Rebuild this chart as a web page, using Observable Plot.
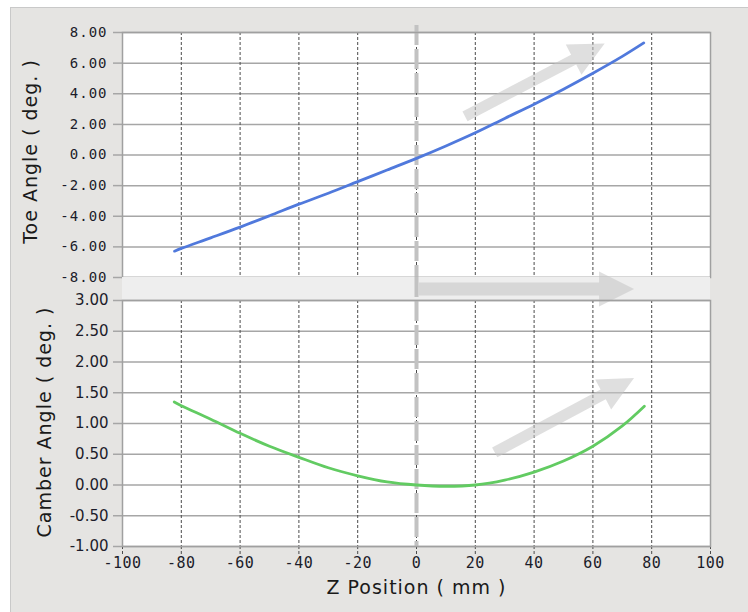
<!DOCTYPE html>
<html>
<head>
<meta charset="utf-8">
<script src="https://cdn.jsdelivr.net/npm/d3@7"></script>
<script src="https://cdn.jsdelivr.net/npm/@observablehq/plot@0.6"></script>
<style>
  body { margin: 0; background: #ffffff; }
  #wrap { position: relative; width: 748px; height: 612px; overflow: hidden; }
  #bg { position: absolute; left: 10px; top: 7px; width: 760px; height: 620px; background: #e5e4e2; border: 1px solid #c9c9c9; }
  #top { position: absolute; left: 0; top: 0; }
  #bot { position: absolute; left: 0; top: 277px; }
</style>
</head>
<body>
<div id="wrap">
  <div id="bg"></div>
  <div id="top"></div>
  <div id="bot"></div>
</div>
<script>
// ---- data ----
const zTicks = [-100, -80, -60, -40, -20, 0, 20, 40, 60, 80, 100];
const toeTicks = [-8, -6, -4, -2, 0, 2, 4, 6, 8];
const camberTicks = [-1, -0.5, 0, 0.5, 1, 1.5, 2, 2.5, 3];

const toeZ   = [-82.3, -80, -70, -60, -50, -40, -30, -20, -10, 0, 10, 20, 30, 40, 50, 60, 70, 77.3];
const toeDeg = [-6.28, -6.1, -5.41, -4.71, -3.97, -3.21, -2.5, -1.74, -0.98, -0.22, 0.59, 1.45, 2.39, 3.32, 4.3, 5.34, 6.44, 7.32];

const camberZ   = [-82.4, -80, -70, -60, -50, -40, -30, -20, -10, 0, 10, 20, 30, 40, 50, 60, 70, 77.5];
const camberDeg = [1.35, 1.29, 1.07, 0.84, 0.63, 0.45, 0.28, 0.15, 0.05, 0.0, -0.02, 0.0, 0.08, 0.21, 0.39, 0.63, 0.96, 1.28];

// decorative arrows (tail -> tip), in data units
const toeArrowZ = [16.5, 64];
const toeArrowDeg = [2.53, 7.28];
const camberArrowZ = [26.6, 74];
const camberArrowDeg = [0.53, 1.74];
const bandArrowZ = [0.8, 74];

const toeLabel = "Toe Angle ( deg. )";
const camberLabel = "Camber Angle ( deg. )";
const zLabel = "Z Position ( mm )";

// ---- layout ----
const W = 748;
const mL = 122, mR = 38;
const topH = 278, topMT = 32, topMB = 1;
const botH = 335, botMT = 23, botMB = 66;

const toeData = toeZ.map((z, i) => ({z, v: toeDeg[i]}));
const camberData = camberZ.map((z, i) => ({z, v: camberDeg[i]}));

// pixel mirrors of scales, for arrow angle/length
const xPx = d3.scaleLinear([-100, 100], [mL, W - mR]);
const toePx = d3.scaleLinear([-8, 8], [topH - topMB, topMT]);
const camPx = d3.scaleLinear([-1, 3], [botH - botMB, botMT]);

function blockArrow(halfW, headHalf, headLen) {
  return {
    draw(ctx, l) {
      const b = l - headLen;
      ctx.moveTo(-halfW, 0);
      ctx.lineTo(-halfW, -b);
      ctx.lineTo(-headHalf, -b);
      ctx.lineTo(0, -l);
      ctx.lineTo(headHalf, -b);
      ctx.lineTo(halfW, -b);
      ctx.lineTo(halfW, 0);
      ctx.closePath();
    }
  };
}
function arrowMark(zs, vs, yPx, halfW) {
  const dx = xPx(zs[1]) - xPx(zs[0]);
  const dy = yPx(vs[0]) - yPx(vs[1]);
  const len = Math.hypot(dx, dy);
  const rot = Math.atan2(dx, dy) * 180 / Math.PI;
  return Plot.vector([{z: zs[0], v: vs[0]}], {
    x: "z", y: "v", anchor: "start", length: len, rotate: rot,
    shape: blockArrow(halfW, 17, 35), fill: "#c4c4c4", fillOpacity: 0.55, stroke: "none"
  });
}

const tickText = "#1c1c2a";
const fmt2 = d => d.toFixed(2);
const titleFont = {fontFamily: "DejaVu Sans", fontSize: 19, fill: "#1a1a1a", textAnchor: "middle", lineAnchor: "middle"};

// ---- top panel ----
const topPlot = Plot.plot({
  width: W, height: topH,
  marginLeft: mL, marginRight: mR, marginTop: topMT, marginBottom: topMB,
  style: {background: "transparent", overflow: "visible"},
  x: {domain: [-100, 100], axis: null},
  y: {domain: [-8, 8], axis: null},
  marks: [
    Plot.frame({fill: "white", stroke: "none"}),
    Plot.gridY(toeTicks, {stroke: "#a6a6a6", strokeOpacity: 1, strokeWidth: 1.5}),
    Plot.gridX(zTicks, {stroke: "#4a4a4a", strokeOpacity: 1, strokeWidth: 1, strokeDasharray: "3,2"}),
    Plot.axisY(toeTicks, {
      tickSize: 9, tickPadding: 6, stroke: "#a6a6a6", strokeWidth: 1.5,
      fill: tickText, fontFamily: "DejaVu Sans Mono", fontSize: 14,
      tickFormat: fmt2, label: null
    }),
    arrowMark(toeArrowZ, toeArrowDeg, toePx, 5.5),
    Plot.ruleX([0], {stroke: "#c2c2c2", strokeWidth: 4, strokeDasharray: "20,4", insetTop: -7}),
    Plot.line(toeData, {x: "z", y: "v", stroke: "#5079dc", strokeWidth: 2.8, curve: "catmull-rom"}),
    Plot.frame({stroke: "#a0a0a0", strokeWidth: 1.5}),
    Plot.text([toeLabel], {frameAnchor: "left", rotate: -90, dx: -92, dy: -3.5, ...titleFont})
  ]
});
topPlot.querySelectorAll("text").forEach(t => { t.style.letterSpacing = "1px"; });
document.getElementById("top").appendChild(topPlot);

// ---- bottom panel ----
const botPlot = Plot.plot({
  width: W, height: botH,
  marginLeft: mL, marginRight: mR, marginTop: botMT, marginBottom: botMB,
  style: {background: "transparent", overflow: "visible"},
  x: {domain: [-100, 100], axis: null},
  y: {domain: [-1, 3], axis: null},
  marks: [
    Plot.rect([0], {x1: -100, x2: 100, insetTop: -botMT, insetBottom: botH - botMT - botMB, fill: "#eeeeee"}),
    Plot.frame({fill: "white", stroke: "none"}),
    Plot.gridY(camberTicks, {stroke: "#a6a6a6", strokeOpacity: 1, strokeWidth: 1.5}),
    Plot.gridX(zTicks, {stroke: "#4a4a4a", strokeOpacity: 1, strokeWidth: 1, strokeDasharray: "3,2"}),
    Plot.axisY(camberTicks, {
      tickSize: 9, tickPadding: 5, stroke: "#a6a6a6", strokeWidth: 1.5,
      fill: tickText, fontFamily: "DejaVu Sans", fontSize: 15,
      tickFormat: fmt2, label: null
    }),
    Plot.axisX(zTicks, {
      tickSize: 8, tickPadding: 3, stroke: "#4a4a4a", strokeDasharray: "3,2",
      fill: tickText, fontFamily: "DejaVu Sans Mono", fontSize: 15,
      tickFormat: d => String(d), label: null
    }),
    arrowMark(camberArrowZ, camberArrowDeg, camPx, 5.5),
    Plot.vector([{z: bandArrowZ[0]}], {
      x: "z", frameAnchor: "top", dy: -11.5, anchor: "start",
      length: xPx(bandArrowZ[1]) - xPx(bandArrowZ[0]), rotate: 90,
      shape: blockArrow(6.5, 17.5, 35), fill: "#c4c4c4", fillOpacity: 0.55, stroke: "none"
    }),
    Plot.ruleX([0], {stroke: "#c2c2c2", strokeWidth: 4, strokeDasharray: "20,4", insetTop: -botMT}),
    Plot.line(camberData, {x: "z", y: "v", stroke: "#62cb62", strokeWidth: 2.8, curve: "catmull-rom"}),
    Plot.frame({stroke: "#a0a0a0", strokeWidth: 1.5}),
    Plot.text([camberLabel], {frameAnchor: "left", rotate: -90, dx: -78, dy: -1.5, ...titleFont}),
    Plot.text([zLabel], {frameAnchor: "bottom", dy: 41, ...titleFont})
  ]
});
botPlot.querySelectorAll("text").forEach(t => {
  if (/^-?\d+$/.test(t.textContent)) t.style.letterSpacing = "0.5px";
  else if (!/^-?\d/.test(t.textContent)) t.style.letterSpacing = "1px";
});
document.getElementById("bot").appendChild(botPlot);
</script>
</body>
</html>
